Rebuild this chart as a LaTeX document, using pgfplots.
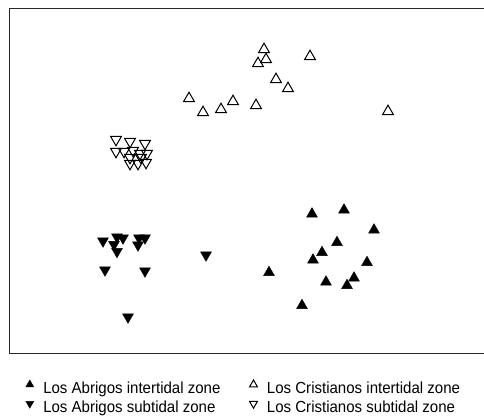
\documentclass[border=0pt]{standalone}
\usepackage{fontspec}
\setmainfont{Liberation Sans}[FakeStretch=0.94]
\usepackage{pgfplots}
\pgfplotsset{compat=1.18}
\begin{document}
\begin{tikzpicture}
\begin{axis}[
  scale only axis, width=477pt, height=345pt,
  at={(0,0)}, anchor=south west,
  xmin=9, xmax=486, ymin=8, ymax=353, y dir=reverse,
  xtick=\empty, ytick=\empty,
  axis line style={black!85, line width=0.9pt},
  clip=false,
  legend columns=2,
  legend cell align=left,
  legend style={draw=none, fill=none, inner sep=0pt, outer sep=0pt,
    at={(axis description cs:0,0)}, anchor=north west, xshift=16.8pt, yshift=-27pt,
    font=\fontsize{16}{19}\selectfont,
    nodes={inner sep=0pt, text height=12pt, text depth=4pt},
    row sep=3pt,
    /tikz/every odd column/.append style={column sep=9.5pt},
    /tikz/every even column/.append style={column sep=29pt}},
  mymark/.style={only marks, mark size=6.3pt,
    legend image code/.code={\draw[##1] plot coordinates {(0pt,4.5pt)};},
    legend image post style={mark size=4.6pt}},
]
\addplot[mymark, mark=triangle*, mark options={fill=black, draw=black, line width=0.4pt}]
  coordinates {(312,214) (344,210) (374,230) (337,242.5) (322,252.5) (313,260)
               (269,272.5) (367,262.5) (326,282) (354,278) (347,285.5) (302,305.5)};
\addlegendentry{Los Abrigos intertidal zone}
\addplot[mymark, mark=triangle, mark options={draw=black, fill=none, line width=1pt}]
  coordinates {(264,49.5) (266,59.5) (258,63.5) (310,56.5) (276,79.5) (288,88.5)
               (189,98.5) (203,112.5) (221,109.5) (233,101.5) (256,105.5) (388,111.5)};
\addlegendentry{Los Cristianos intertidal zone}
\addplot[mymark, mark=triangle*, mark options={fill=black, draw=black, line width=0.4pt, rotate=180}]
  coordinates {(103,241) (117,237) (123,238) (114,244.5) (117,251.5) (139,238)
               (145,238) (138,245) (206,255) (105,270) (145,271) (128,317)};
\addlegendentry{Los Abrigos subtidal zone}
\addplot[mymark, mark=triangle, mark options={draw=black, fill=none, line width=1pt, rotate=180}]
  coordinates {(116,139.5) (130,141.5) (145,143.5) (116,151.5) (124,151.5) (133,150.5)
               (140,153.5) (147,153.5) (130,157.5) (141,157.5) (130,163.5) (138,163.5) (146,162.5)};
\addlegendentry{Los Cristianos subtidal zone}
\end{axis}
\pgfresetboundingbox
\useasboundingbox (-9pt,-62pt) rectangle (475pt,353pt);
\end{tikzpicture}
\end{document}
